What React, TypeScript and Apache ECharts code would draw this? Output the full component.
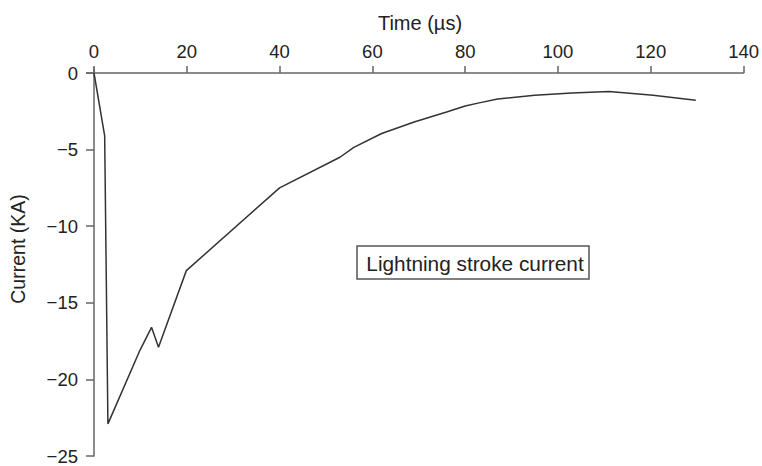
import React, { useEffect, useRef } from "react";
import * as echarts from "echarts";

const timeUs = [0, 2.3, 3.0, 9.9, 12.4, 13.9, 19.9, 40, 53, 56, 62, 69, 76, 80, 83, 87, 95, 103, 111, 120.5, 129.7];
const currentKA = [0, -4.1, -22.9, -18.1, -16.6, -17.9, -12.9, -7.5, -5.5, -4.85, -3.95, -3.2, -2.55, -2.15, -1.95, -1.7, -1.45, -1.3, -1.2, -1.45, -1.78];
const xTicks = { min: 0, max: 140, interval: 20 };
const yTicks = { min: -25, max: 0, interval: 5 };
const xTitle = "Time (\u00b5s)";
const yTitle = "Current (KA)";
const boxLabel = "Lightning stroke current";

const FONT = "'Liberation Sans', Arial, sans-serif";

export default function App() {
  const ref = useRef<HTMLDivElement>(null);
  useEffect(() => {
    document.body.style.margin = "0";
    const chart = echarts.init(ref.current!, undefined, { renderer: "svg" });
    const data = timeUs.map((t, i) => [t, currentKA[i]]);
    chart.setOption({
      animation: false,
      backgroundColor: "#fff",
      grid: { left: 94, right: 18, top: 73, bottom: 10, containLabel: false },
      xAxis: {
        type: "value",
        position: "top",
        min: xTicks.min,
        max: xTicks.max,
        interval: xTicks.interval,
        axisLine: { show: true, onZero: false, lineStyle: { color: "#666", width: 1.5 } },
        axisTick: { show: true, length: 7, lineStyle: { color: "#666", width: 1.5 } },
        axisLabel: { fontFamily: FONT, fontSize: 18.5, color: "#222", margin: 12 },
        splitLine: { show: false },
      },
      yAxis: {
        type: "value",
        min: yTicks.min,
        max: yTicks.max,
        interval: yTicks.interval,
        axisLine: { show: true, onZero: false, lineStyle: { color: "#666", width: 1.5 } },
        axisTick: { show: true, length: 8, lineStyle: { color: "#666", width: 1.5 } },
        axisLabel: {
          fontFamily: FONT,
          fontSize: 18.5,
          color: "#222",
          margin: 16,
          formatter: (v: number) => String(v).replace("-", "\u2212"),
        },
        splitLine: { show: false },
      },
      series: [
        {
          type: "line",
          data,
          symbol: "none",
          lineStyle: { color: "#333", width: 1.5 },
        },
      ],
      graphic: [
        { type: "line", shape: { x1: 86, y1: 73, x2: 94, y2: 73 }, style: { stroke: "#666", lineWidth: 1.5 } },
        { type: "line", shape: { x1: 94, y1: 67, x2: 94, y2: 73 }, style: { stroke: "#666", lineWidth: 1.5 } },
        {
          type: "text",
          x: 420,
          y: 23,
          style: { text: xTitle, font: `20px ${FONT}`, fill: "#222", textAlign: "center", textVerticalAlign: "middle" },
        },
        {
          type: "text",
          x: 18,
          y: 249,
          rotation: Math.PI / 2,
          style: { text: yTitle, font: `19.5px ${FONT}`, fill: "#222", textAlign: "center", textVerticalAlign: "middle" },
        },
        {
          type: "rect",
          shape: { x: 357, y: 246, width: 232, height: 33 },
          style: { fill: "#fff", stroke: "#555", lineWidth: 1.5 },
        },
        {
          type: "text",
          x: 475,
          y: 263,
          style: { text: boxLabel, font: `20.8px ${FONT}`, fill: "#222", textAlign: "center", textVerticalAlign: "middle" },
        },
      ],
    });
    return () => chart.dispose();
  }, []);
  return <div ref={ref} style={{ width: 762, height: 466 }} />;
}
